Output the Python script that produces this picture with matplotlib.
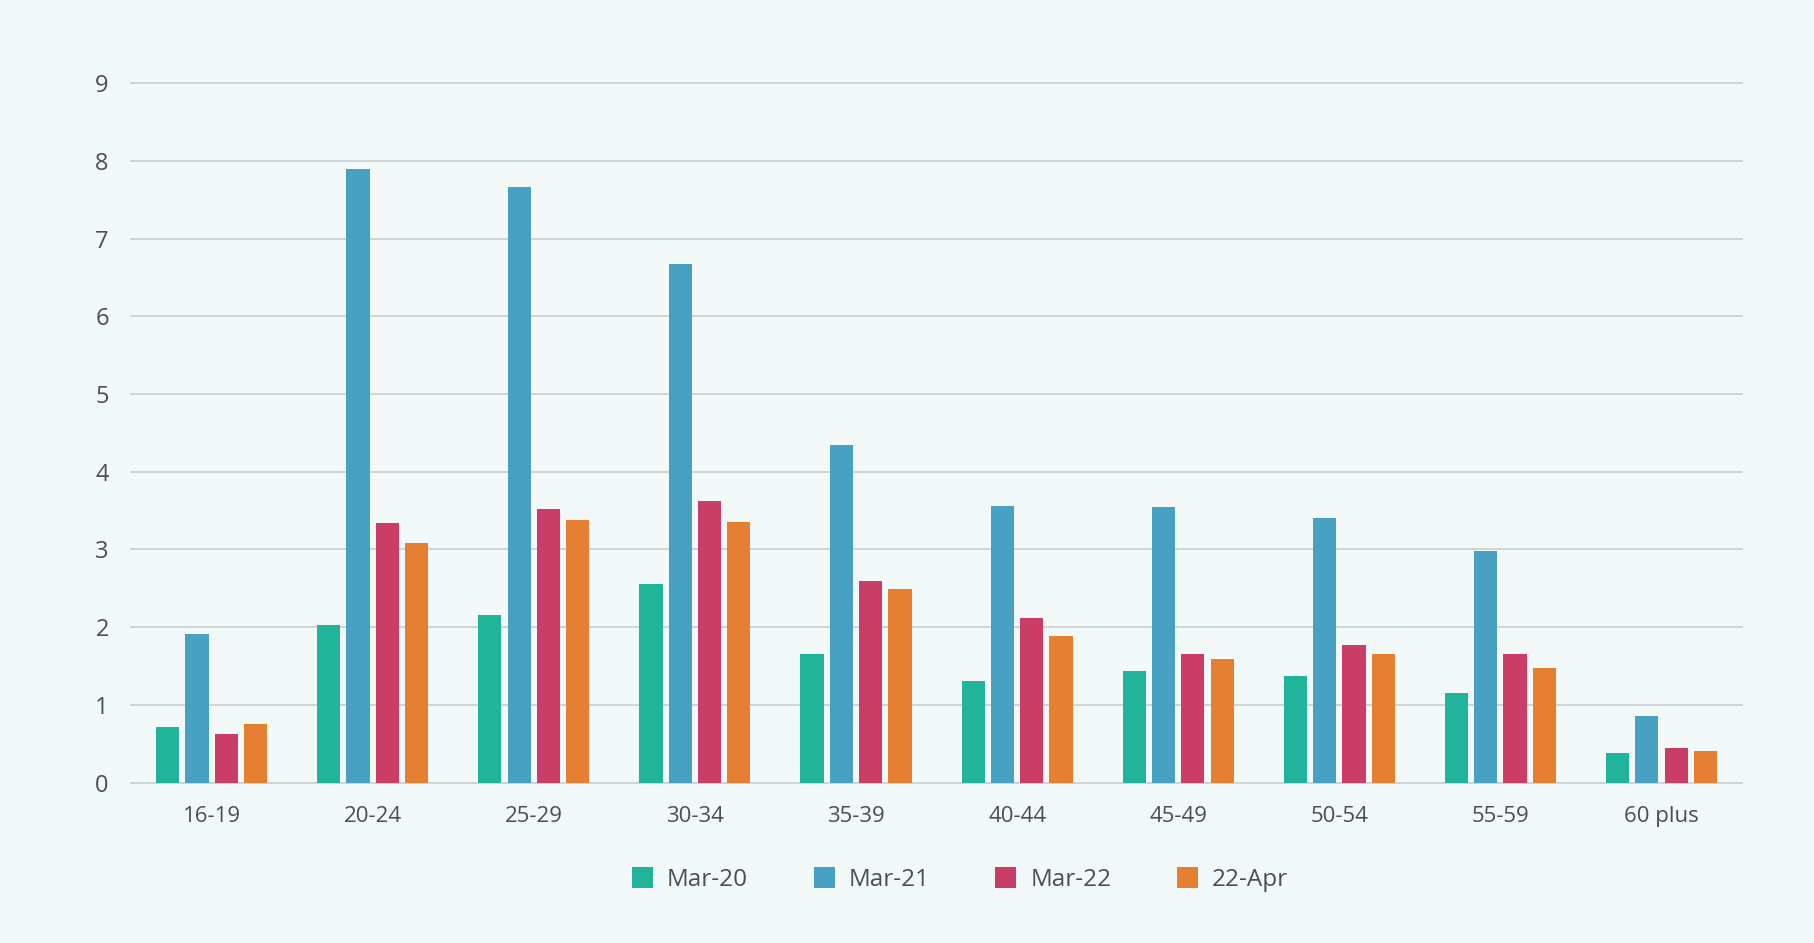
import matplotlib.pyplot as plt
import numpy as np

age_groups = ['16-19', '20-24', '25-29', '30-34', '35-39', '40-44', '45-49', '50-54', '55-59', '60 plus']
series_names = ['Mar-20', 'Mar-21', 'Mar-22', '22-Apr']
mar20 = [0.72, 2.03, 2.16, 2.56, 1.65, 1.31, 1.43, 1.37, 1.15, 0.38]
mar21 = [1.91, 7.90, 7.66, 6.68, 4.35, 3.56, 3.55, 3.40, 2.98, 0.85]
mar22 = [0.63, 3.34, 3.52, 3.62, 2.59, 2.12, 1.65, 1.77, 1.65, 0.45]
apr22 = [0.75, 3.08, 3.38, 3.35, 2.49, 1.88, 1.59, 1.65, 1.48, 0.41]
y_ticks = [0, 1, 2, 3, 4, 5, 6, 7, 8, 9]

colors = ['#22B49B', '#48A0C2', '#C93D66', '#E57F31']
bg = '#F2F9F8'
text_col = '#4A4F55'
grid_col = '#C9CED1'

plt.rcParams['font.family'] = ['Open Sans', 'DejaVu Sans']

fig = plt.figure(figsize=(18.15, 9.43), dpi=100, facecolor=bg)
ax = fig.add_axes([0.0722, 0.1702, 0.8876, 0.7415], facecolor=bg)

x = np.arange(len(age_groups))
pitch = 0.182
width = 0.144
for i, vals in enumerate([mar20, mar21, mar22, apr22]):
    ax.bar(x + (i - 1.5) * pitch, vals, width, color=colors[i],
           label=series_names[i], zorder=3)

ax.set_xlim(-0.5, len(age_groups) - 0.5)
ax.set_ylim(0, 9)
ax.set_yticks(y_ticks)
ax.set_xticks(x)
ax.set_xticklabels(age_groups)
ax.grid(axis='y', color=grid_col, linewidth=1.2, zorder=0)
for gl in ax.get_ygridlines():
    gl.set_clip_on(False)
for s in ax.spines.values():
    s.set_visible(False)
ax.tick_params(length=0, colors=text_col)
ax.tick_params(axis='y', pad=16, labelsize=17)
ax.tick_params(axis='x', pad=17, labelsize=16)

leg = fig.legend(loc='center', bbox_to_anchor=(0.529, 0.067), ncol=4, frameon=False,
                 fontsize=17.5, handlelength=0.86, handleheight=0.95,
                 handletextpad=0.58, columnspacing=2.7)
for t in leg.get_texts():
    t.set_color(text_col)

plt.savefig('out.png', facecolor=bg)
